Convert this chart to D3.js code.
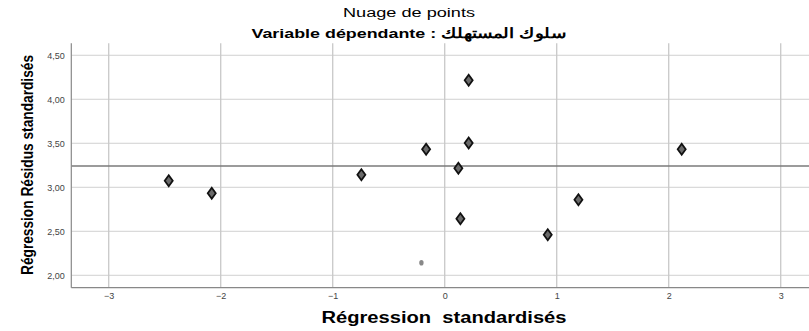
<!DOCTYPE html>
<html><head><meta charset="utf-8">
<script src="https://cdn.jsdelivr.net/npm/d3@7"></script>
<style>body{margin:0;background:#fff}svg{display:block}</style>
</head><body>
<svg id="c" width="809" height="331"></svg>
<script>
const xValues = [-2.464, -2.080, -0.744, -0.166, 0.214, 0.214, 0.122, 0.140, 2.116, 1.194, 0.920];
const yValues = [3.075, 2.932, 3.143, 3.432, 4.216, 3.503, 3.216, 2.643, 3.432, 2.859, 2.461];
const faintX = [-0.208];
const faintY = [2.143];
const xTicks = [-3, -2, -1, 0, 1, 2, 3];
const yTicks = [2.0, 2.5, 3.0, 3.5, 4.0, 4.5];
const refY = 3.242;
const title = "Nuage de points";
const subtitle = "Variable dépendante : سلوك المستهلك";
const xTitle = "Régression  standardisés";
const yTitle = "Régression Résidus standardisés";

const svg = d3.select("#c");
const L = 71.3, T = 43.3, B = 287.7;
const x = d3.scaleLinear().domain([-3.334, 3.29]).range([L, L + (3.29+3.334)*112]);
const y = d3.scaleLinear().domain([1.859, 4.636]).range([B, T]);
const font = "Liberation Sans, Arial, sans-serif";

// grid
svg.append("g").selectAll("line").data(yTicks).join("line")
  .attr("x1", L).attr("x2", 809).attr("y1", d => y(d)).attr("y2", d => y(d))
  .attr("stroke", "#d0d0d0").attr("stroke-width", 1);
svg.append("g").selectAll("line").data(xTicks).join("line")
  .attr("x1", d => x(d)).attr("x2", d => x(d)).attr("y1", T).attr("y2", B)
  .attr("stroke", "#c8c8c8").attr("stroke-width", 1.3);

// reference line
svg.append("line").attr("x1", L).attr("x2", 809).attr("y1", y(refY)).attr("y2", y(refY))
  .attr("stroke", "#7a7a7a").attr("stroke-width", 1.4);

// axes
const xa = svg.append("g").attr("transform", `translate(0,${B})`)
  .call(d3.axisBottom(x).tickValues(xTicks).tickSize(0).tickPadding(4.5).tickFormat(d3.format("d")));
xa.select(".domain").remove();
xa.selectAll("text").attr("font-family", font).attr("font-size", 9).attr("fill", "#444");
const ya = svg.append("g").attr("transform", `translate(${L},0)`)
  .call(d3.axisLeft(y).tickValues(yTicks).tickSize(0).tickPadding(6.5).tickFormat(d => d3.format(".2f")(d).replace(".", ",")));
ya.select(".domain").remove();
ya.selectAll("text").attr("font-family", font).attr("font-size", 9).attr("fill", "#444");

svg.append("line").attr("x1", L).attr("x2", 809).attr("y1", B).attr("y2", B).attr("stroke", "#888").attr("stroke-width", 1.2);
svg.append("line").attr("x1", L).attr("x2", L).attr("y1", T).attr("y2", B).attr("stroke", "#888").attr("stroke-width", 1.2);

// points
const pts = xValues.map((v, i) => [v, yValues[i]]);
svg.append("g").selectAll("path").data(pts).join("path")
  .attr("transform", d => `translate(${x(d[0])},${y(d[1])})`)
  .attr("d", "M0,-5.5 L4,0 L0,5.5 L-4,0 Z")
  .attr("fill", "#6a6a6a").attr("stroke", "#111").attr("stroke-width", 1.8);
svg.append("g").selectAll("ellipse").data(faintX.map((v, i) => [v, faintY[i]])).join("ellipse")
  .attr("cx", d => x(d[0])).attr("cy", d => y(d[1])).attr("rx", 2.2).attr("ry", 2.8)
  .attr("fill", "#888");

// titles
svg.append("text").attr("x", 409).attr("y", 17).attr("text-anchor", "middle")
  .attr("font-family", font).attr("font-size", 12).attr("fill", "#000")
  .attr("textLength", 132).attr("lengthAdjust", "spacingAndGlyphs").text(title);
svg.append("text").attr("x", 409).attr("y", 37.5).attr("text-anchor", "middle")
  .attr("font-family", font).attr("font-size", 13.5).attr("font-weight", "bold").attr("fill", "#000")
  .attr("textLength", 315).attr("lengthAdjust", "spacingAndGlyphs").text(subtitle);
svg.append("text").attr("x", 444).attr("y", 323).attr("text-anchor", "middle")
  .attr("font-family", font).attr("font-size", 16).attr("font-weight", "bold").attr("fill", "#000")
  .attr("textLength", 245).attr("lengthAdjust", "spacingAndGlyphs")
  .style("white-space", "pre").text(xTitle);
svg.append("text").attr("transform", "translate(33,165) rotate(-90)").attr("text-anchor", "middle")
  .attr("font-family", font).attr("font-size", 16.5).attr("font-weight", "bold").attr("fill", "#000")
  .attr("textLength", 220).attr("lengthAdjust", "spacingAndGlyphs")
  .text(yTitle);
</script>
</body></html>
